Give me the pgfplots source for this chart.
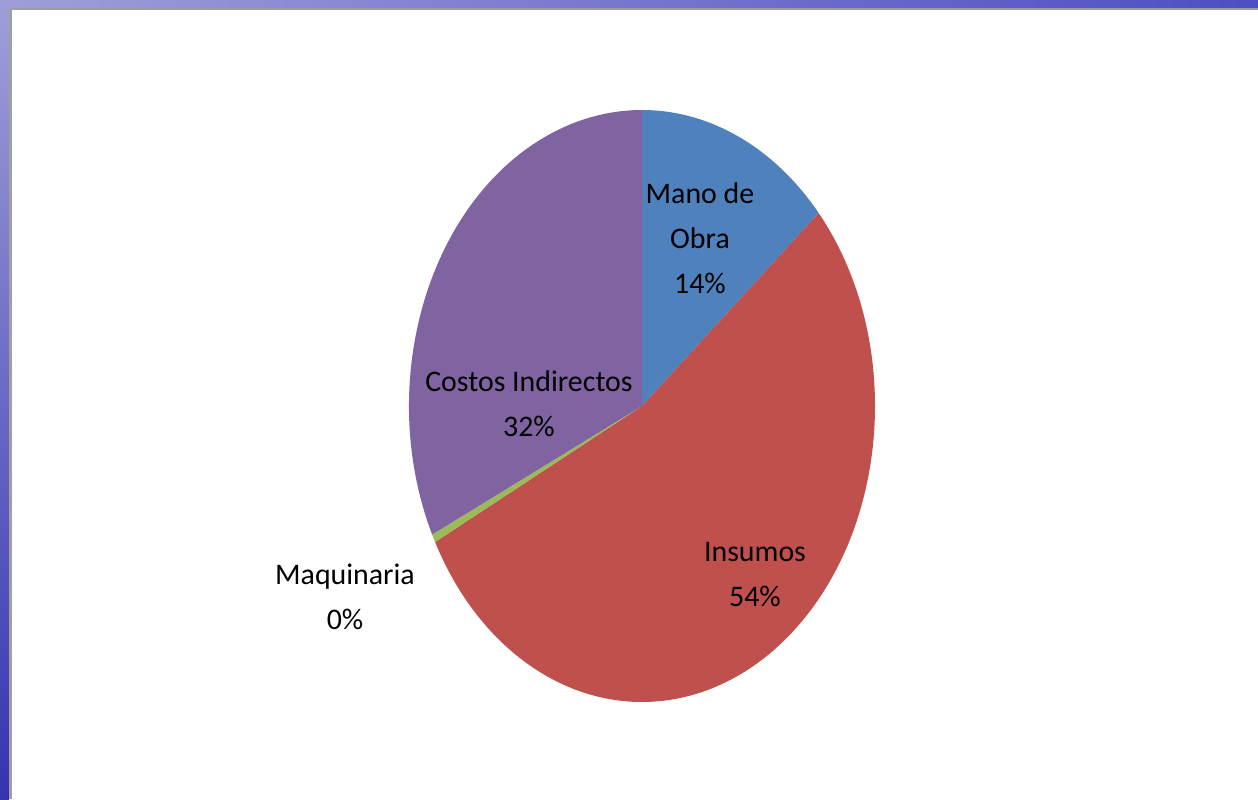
\documentclass[border=0pt]{standalone}
\usepackage{pgfplots}
\pgfplotsset{compat=1.18}
\usepackage{pgfplotstable}
\usepackage{fontspec}
\setmainfont{Carlito}

\definecolor{obra}{HTML}{4F81BD}
\definecolor{insumos}{HTML}{C0504D}
\definecolor{maq}{HTML}{9BBB59}
\definecolor{costos}{HTML}{8064A2}
\definecolor{slidelight}{HTML}{A09ED8}
\definecolor{slidedark}{HTML}{3434B2}
\definecolor{slidetop}{HTML}{4E4EC4}

\tikzset{lbl/.style={font=\fontsize{17}{25.6}\selectfont,align=center,text=black}}

% shares in percent, clockwise from 12 o'clock
\pgfplotstableread{
share
13.7
53.7
0.45
32.15
}\piedata

% one wedge of the (vertically stretched) pie, centre at pixel (642,406)
\newcommand\slice[3]{%
  \fill[#3] (axis cs:642,406) -- ++(#1:4.66cm and 5.92cm)
    arc[start angle=#1, end angle=#2, x radius=4.66cm, y radius=5.92cm] -- cycle;}

\begin{document}
\begin{tikzpicture}
\pgfplotstablegetelem{0}{share}\of\piedata \let\sA\pgfplotsretval
\pgfplotstablegetelem{1}{share}\of\piedata \let\sB\pgfplotsretval
\pgfplotstablegetelem{2}{share}\of\piedata \let\sC\pgfplotsretval
\pgfmathsetmacro\tA{90}
\pgfmathsetmacro\tB{\tA-3.6*\sA}
\pgfmathsetmacro\tC{\tB-3.6*\sB}
\pgfmathsetmacro\tD{\tC-3.6*\sC}
\begin{axis}[
  width=25.16cm,height=15.98cm,scale only axis,
  xmin=0,xmax=1258,ymin=0,ymax=799,y dir=reverse,
  hide axis,clip=false]
% slide background
\fill[white] (axis cs:0,0) rectangle (axis cs:1258,799);
\fill[left color=slidelight,right color=slidetop] (axis cs:0,0) rectangle (axis cs:1258,8);
\fill[top color=slidelight,bottom color=slidedark] (axis cs:0,0) rectangle (axis cs:9,799);
\fill[gray!75] (axis cs:9,8) rectangle (axis cs:1258,10.5);
\fill[gray!75] (axis cs:9,8) rectangle (axis cs:12,799);
% pie
\slice{\tA}{\tB}{obra}
\slice{\tB}{\tC}{insumos}
\slice{\tC}{\tD}{maq}
\slice{\tD}{-270}{costos}
% labels
\node[lbl] at (axis cs:700,238) {Mano de\\Obra\\14\%};
\node[lbl] at (axis cs:755,575) {Insumos\\54\%};
\node[lbl] at (axis cs:345,597) {Maquinaria\\0\%};
\node[lbl] at (axis cs:529,404) {Costos Indirectos\\32\%};
\end{axis}
\end{tikzpicture}
\end{document}
